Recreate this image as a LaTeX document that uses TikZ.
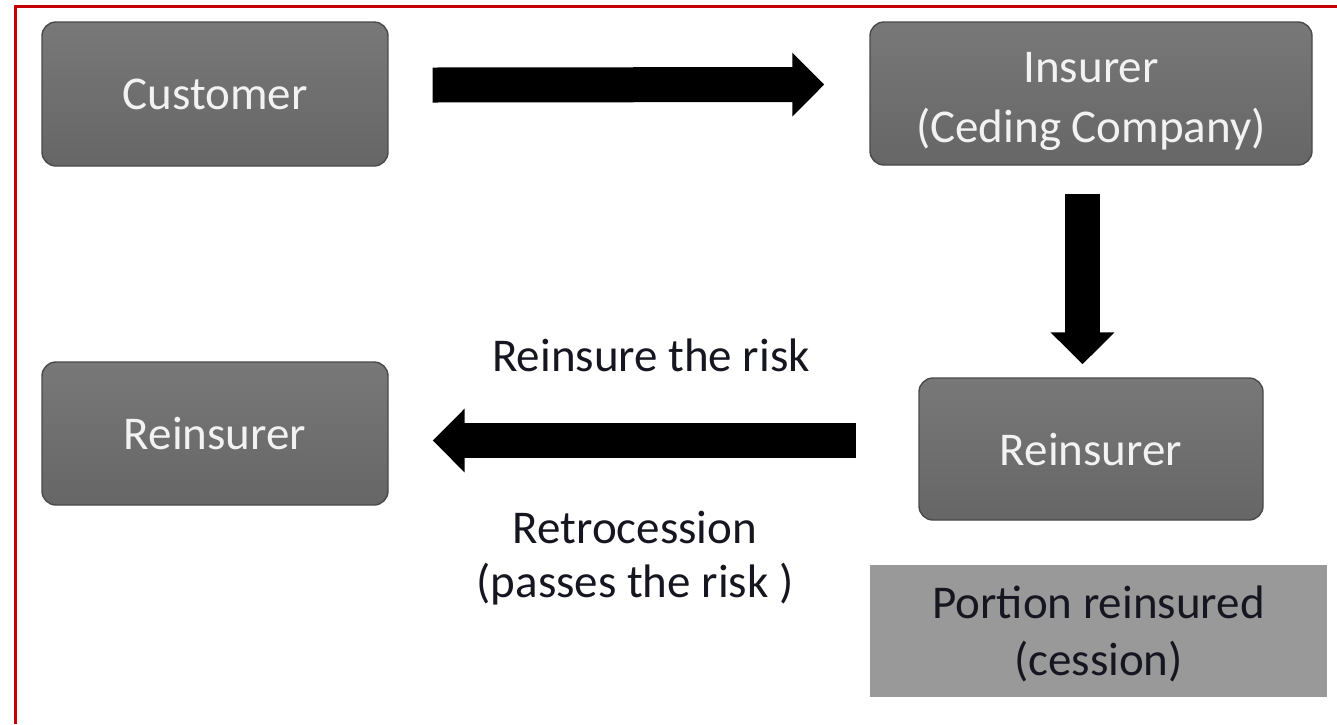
\documentclass[tikz,border=0pt]{standalone}
\usepackage{fontspec}
\setmainfont{Carlito}
\usetikzlibrary{arrows.meta}
\definecolor{framered}{RGB}{196,0,0}
\definecolor{boxtop}{RGB}{120,120,120}
\definecolor{boxbot}{RGB}{102,102,102}
\definecolor{boxedge}{RGB}{74,74,74}
\definecolor{portionfill}{RGB}{153,153,153}
\definecolor{darktext}{RGB}{22,22,32}
\definecolor{boxtext}{RGB}{242,242,242}
\begin{document}
\begin{tikzpicture}[x=1pt,y=-1pt,
  box/.style={rounded corners=14pt, top color=boxtop, bottom color=boxbot,
    draw=boxedge, line width=1.4pt, text=boxtext,
    font=\fontsize{47}{58}\selectfont, align=center, inner sep=0pt},
  boxlabel/.style={text=boxtext, font=\fontsize{47}{60}\selectfont, align=center, inner sep=0pt},
  portionbox/.style={fill=portionfill, draw=none, inner sep=0pt,
    minimum width=457pt, minimum height=132pt},
  portionlabel/.style={text=darktext, font=\fontsize{47}{57}\selectfont, align=center, inner sep=0pt},
  lbl/.style={text=darktext, font=\fontsize{47}{58}\selectfont, inner sep=0pt},
  bigarrow/.style={-{Triangle[length=32pt,width=62pt]}, line width=35pt, draw=black}
]
\useasboundingbox (0,0) rectangle (1337,724);
\fill[white] (0,0) rectangle (1337,724);
\draw[framered, line width=3pt] (15,724) -- (15,6) -- (1337,6);

\node[box, minimum width=346pt, minimum height=144pt] (cust) at (215,94) {Customer};
\node[box, minimum width=442pt, minimum height=143pt] (ins) at (1091,93.5) {};
\node[boxlabel] (inslbl) at ([yshift=-8pt]ins.center) {Insurer\\(Ceding Company)};
\node[box, minimum width=344pt, minimum height=142pt] (reinR) at (1091,449) {Reinsurer};
\node[box, minimum width=346pt, minimum height=143pt] (reinL) at (215,433.5) {Reinsurer};
\node[portionbox] (portion) at (1098.5,631) {};
\node[portionlabel] (portionlbl) at ([yshift=-3pt]portion.center) {Portion reinsured\\(cession)};

\draw[bigarrow] ([xshift=44pt,yshift=9pt]cust.east) -- ([xshift=-45pt,yshift=9pt]ins.west);
\draw[bigarrow] ([xshift=-8.5pt,yshift=-28pt]ins.south) -- ([xshift=-8.5pt,yshift=13pt]reinR.north);
\draw[bigarrow] ([xshift=-62pt,yshift=8.5pt]reinR.west) -- ([xshift=44pt,yshift=-7pt]reinL.east);

\node[lbl] (l1) at (651,355) {Reinsure the risk};
\node[lbl] (l2) at (635,527) {Retrocession};
\node[lbl] (l3) at (635,584) {(passes the risk )};
\end{tikzpicture}
\end{document}
